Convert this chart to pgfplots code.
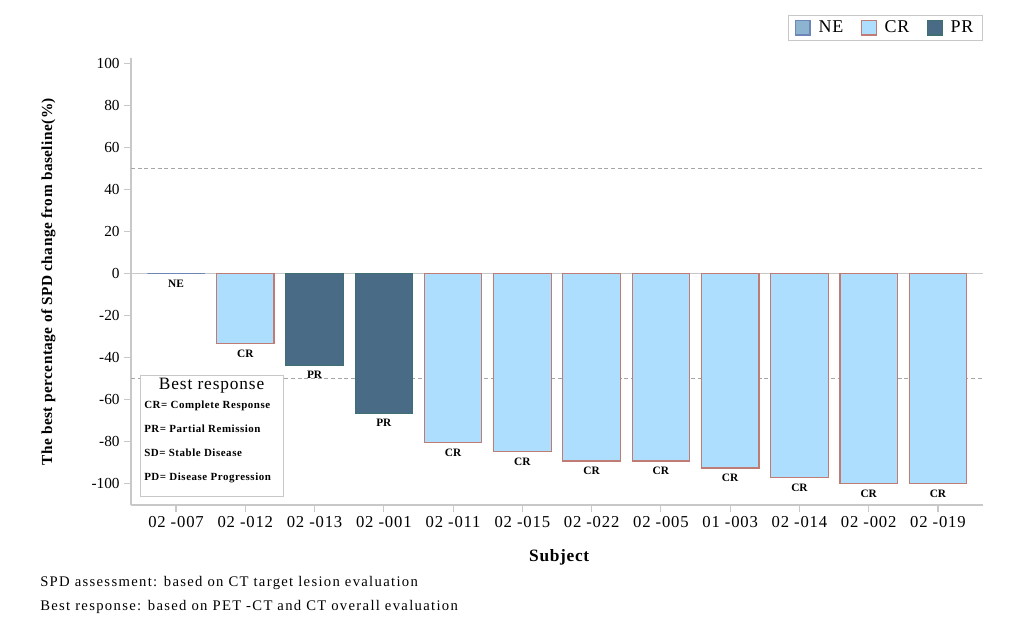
\documentclass[border=0pt]{standalone}
\usepackage{pgfplots}
\pgfplotsset{compat=1.18}
\usepackage{fontspec}
\setmainfont{Liberation Serif}
\definecolor{crfill}{HTML}{ADDEFE}
\definecolor{credge}{HTML}{C07B74}
\definecolor{prfill}{HTML}{4A6B85}
\definecolor{predge}{HTML}{3F6E73}
\definecolor{nefill}{HTML}{8CB3CF}
\definecolor{needge}{HTML}{6C86B8}
\definecolor{axgray}{HTML}{C8C8C8}
\begin{document}
\begin{tikzpicture}
\path[use as bounding box] (0,0) rectangle (756.75pt,477pt);
\begin{axis}[
  at={(98.25pt,98.25pt)}, anchor=south west,
  scale only axis, width=639pt, height=335.25pt,
  ybar, bar width=0.83, bar shift=0pt,
  xmin=-0.65, xmax=11.65, ymin=-110.2, ymax=102.4,
  xtick={0,...,11},
  xticklabels={02 -007,02 -012,02 -013,02 -001,02 -011,02 -015,02 -022,02 -005,01 -003,02 -014,02 -002,02 -019},
  ytick={-100,-80,...,100},
  axis x line*=bottom, axis y line*=left,
  axis line style={axgray, line width=1pt},
  tick style={axgray, line width=0.8pt},
  tick align=outside, major tick length=5pt,
  /pgf/number format/assume math mode=true,
  tick label style={font=\fontsize{11.5}{13}\selectfont, text=black},
  xticklabel style={font=\fontsize{12.5}{14}\selectfont\addfontfeature{LetterSpace=5}},
  xlabel={\textbf{Subject}},
  ylabel={\textbf{The best percentage of SPD change from baseline(\%)}},
  xlabel style={at={(axis description cs:0.503,-0.116)}, anchor=center, font=\fontsize{13}{15}\selectfont\addfontfeature{LetterSpace=4}},
  ylabel style={at={(axis description cs:-0.097,0.5)}, anchor=center, rotate=0, font=\fontsize{11.5}{13}\selectfont\addfontfeature{LetterSpace=3}},
  legend style={at={(1,1.04)}, anchor=south east, draw=axgray, legend columns=-1,
    font=\fontsize{13.5}{15}\selectfont\addfontfeature{LetterSpace=4}, inner ysep=2pt, inner xsep=5pt,
    /tikz/every even column/.append style={column sep=11pt},
    /tikz/every odd column/.append style={column sep=4pt}},
  legend image code/.code={\draw[#1, line width=0.8pt] (0pt,-5.6pt) rectangle (11.2pt,5.6pt);},
  nodes near coords align={below},
  every node near coord/.append style={font=\fontsize{8.5}{10}\bfseries\selectfont, text=black, yshift=-1pt},
  clip=false,
]
\draw[axgray, line width=1pt] (axis cs:-0.65,0) -- (axis cs:11.65,0);
\draw[gray!70, dash pattern=on 3pt off 2pt] (axis cs:-0.65,50) -- (axis cs:11.65,50);
\draw[gray!70, dash pattern=on 3pt off 2pt] (axis cs:-0.65,-50) -- (axis cs:11.65,-50);
\addplot[fill=nefill, draw=needge, line width=0.8pt, nodes near coords={NE}]
  coordinates {(0,0)};
\addplot[fill=crfill, draw=credge, line width=0.9pt, nodes near coords={CR}]
  coordinates {(1,-33.3) (4,-80.3) (5,-84.6) (6,-89.3) (7,-89.3) (8,-92.6) (9,-97.0) (10,-99.8) (11,-100.0)};
\addplot[fill=prfill, draw=predge, line width=0.8pt, nodes near coords={PR}]
  coordinates {(2,-43.7) (3,-66.5)};
\legend{NE,CR,PR}
\node[draw=axgray, fill=white, anchor=north west, inner xsep=3pt, inner ysep=2pt] at (axis cs:-0.52,-48.6) {%
  \begin{minipage}{101pt}
  \centering{\fontsize{13}{15}\selectfont\addfontfeature{LetterSpace=5}Best response}\par
  \raggedright\fontsize{8.2}{18}\selectfont\bfseries\addfontfeature{LetterSpace=5}
  \vspace{-4pt}
  CR= Complete Response\par
  PR= Partial Remission\par
  SD= Stable Disease\par
  PD= Disease Progression\par
  \vspace{8pt}
  \end{minipage}};
\end{axis}
\node[anchor=west, inner sep=0pt, font=\fontsize{11}{13}\selectfont\addfontfeature{LetterSpace=9}] at (30pt,39.75pt) {SPD assessment: based on CT target lesion evaluation};
\node[anchor=west, inner sep=0pt, font=\fontsize{11}{13}\selectfont\addfontfeature{LetterSpace=9}] at (30pt,21.75pt) {Best response: based on PET -CT and CT overall evaluation};
\end{tikzpicture}
\end{document}
